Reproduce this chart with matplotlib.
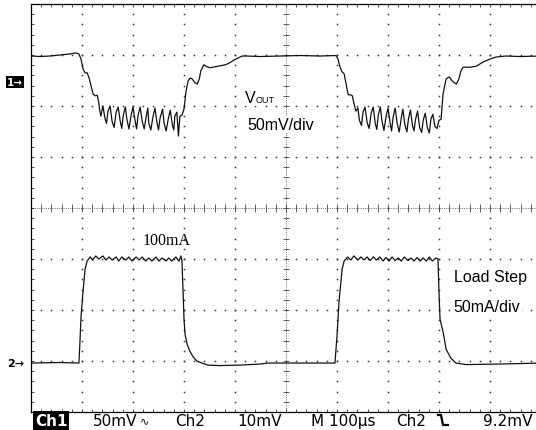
import numpy as np
import matplotlib.pyplot as plt
import matplotlib.transforms as mtransforms
from matplotlib.lines import Line2D

W, H = 536, 431

# Ch1: output voltage, AC coupled, deviation from the resting level (mV)
VOUT_T_US = [
    0, 18, 37, 57, 76, 88, 94, 98, 102, 106,
    110, 114, 118, 122, 126, 130, 133, 135, 137, 141,
    145, 148, 151, 155, 159, 163, 167, 171, 175, 178,
    181, 185, 188, 192, 196, 200, 204, 207, 210, 214,
    218, 222, 226, 229, 231, 235, 239, 243, 247, 250,
    253, 258, 261, 265, 269, 273, 277, 280, 282, 286,
    289, 292, 296, 300, 304, 308, 312, 316, 322, 326,
    330, 333, 339, 345, 351, 361, 371, 382, 390, 398,
    406, 414, 422, 449, 488, 528, 567, 598, 602, 606,
    610, 614, 618, 622, 626, 630, 633, 637, 641, 644,
    648, 651, 655, 659, 663, 667, 671, 675, 678, 681,
    685, 688, 692, 696, 700, 704, 707, 710, 714, 718,
    722, 726, 729, 733, 737, 740, 744, 748, 751, 754,
    758, 762, 766, 769, 773, 777, 781, 784, 788, 792,
    796, 800, 804, 808, 814, 820, 826, 834, 839, 843,
    847, 861, 873, 886, 900, 912, 931, 959, 1000,
]
VOUT_MV = [
    0, -0.5, 0, 1, 2, 3, 2, -3, -12.5, -16.5,
    -16.5, -21.5, -30, -37.5, -39, -38.5, -46, -54, -59, -49,
    -61, -66, -54, -49, -64, -70, -55, -50, -64, -71,
    -58, -50, -62, -71.5, -59, -50, -63, -71.5, -58, -50,
    -64, -71.5, -59, -51, -66, -72.5, -60, -51, -65, -72.5,
    -61, -52, -66, -73.5, -62, -53, -67, -72.5, -59, -55,
    -78.5, -59, -58, -52, -34.5, -24.5, -21.5, -22.5, -26.5, -27.5,
    -22.5, -14.5, -8.5, -10.5, -11.5, -10.5, -9.5, -8.5, -6.5, -4,
    -2, 0, 0, -0.5, 0, 0.5, 0, 0.5, -3, -11,
    -15.5, -17.5, -27.5, -38, -38, -39, -46, -54, -51, -63,
    -68, -55, -50, -65, -71, -56, -50, -66, -72, -58,
    -50, -63, -73, -60, -51, -65, -73.5, -60, -51, -66,
    -74.5, -61, -52, -67, -74.5, -62, -53, -68, -73.5, -62,
    -54, -70, -75, -63, -56, -70, -75.5, -62, -57, -69,
    -71, -63, -62, -37, -22.5, -20.5, -24.5, -27.5, -22.5, -14.5,
    -11, -11, -10, -6, -3, -1, 0, -0.5, 0,
]

# Ch2: load current (mA), stepping between 0 and STEP_MA
STEP_MA = 100
ILOAD_T_US = [
    0, 57, 94, 96, 98, 102, 106, 110, 116, 121,
    127, 133, 141, 147, 153, 159, 167, 172, 178, 186,
    192, 198, 206, 212, 218, 225, 231, 237, 245, 251,
    257, 265, 270, 276, 284, 290, 294, 296, 298, 300,
    302, 306, 312, 318, 325, 335, 347, 370, 410, 449,
    465, 508, 596, 600, 604, 610, 614, 621, 627, 633,
    641, 647, 653, 659, 665, 671, 677, 684, 690, 696,
    702, 708, 714, 720, 726, 732, 739, 745, 751, 757,
    763, 769, 775, 781, 787, 794, 798, 800, 802, 808,
    814, 823, 833, 853, 918, 1000,
]
ILOAD_MA = [
    0, 0.5, 0, 21, 45, 70, 92, 100, 104, 101,
    105, 102, 105, 101, 104, 101, 104, 100, 104, 101,
    104, 100, 104, 101, 104, 100, 103, 100, 104, 100,
    103, 100, 103, 100, 104, 100, 105, 100, 72.5, 43,
    28.5, 18.5, 11, 6, 2, 0, -2, -2.5, -2, -1,
    0, 0, 0, 26.5, 60, 92, 100, 104, 101, 105,
    101, 104, 101, 104, 100.5, 104, 101, 104, 100, 103.5,
    100, 104, 100.5, 103, 100, 104, 100.5, 103, 100, 103.5,
    100, 103, 100, 104, 100, 103, 102, 69.5, 43, 30.5,
    13.5, 5, 0, -1.5, -1, 0,
]

US_PER_DIV = 100
MV_PER_DIV = 50
MA_PER_DIV = 50
CH1_LEVEL = 2.98    # resting Vout trace, in screen divisions
CH1_MARK = 2.47     # Ch1 reference marker
CH2_LEVEL = -3.04   # Ch2 ground / zero-current level

fig = plt.figure(figsize=(W / 100, H / 100), dpi=100)
ax = fig.add_axes([31 / W, 18 / H, 510 / W, 408 / H])
ax.set_xlim(0, 10)
ax.set_ylim(-4, 4)

# graticule: dotted division lines, fine-ticked centre cross
fx = np.arange(0, 10.001, 0.2)
fy = np.arange(-4, 4.001, 0.2)
for gx in [1, 2, 3, 4, 6, 7, 8, 9]:
    ax.plot(np.full_like(fy, gx), fy, ls="none", marker="s", ms=1.1, mew=0, color="#333333", zorder=1)
for gy in [-3, -2, -1, 1, 2, 3]:
    ax.plot(fx, np.full_like(fx, gy), ls="none", marker="s", ms=1.1, mew=0, color="#333333", zorder=1)
ax.axvline(5, ls=(0, (1, 1.2)), lw=0.6, color="#555555", zorder=1)
ax.axhline(0, ls=(0, (1, 1.2)), lw=0.6, color="#555555", zorder=1)
ax.hlines(fy, 5 - 0.05, 5 + 0.05, lw=0.6, color="#444444", zorder=1)
ax.vlines(fx, -0.07, 0.07, lw=0.6, color="#444444", zorder=1)

for side in ["left", "top", "bottom"]:
    ax.spines[side].set_linewidth(0.9)
    ax.spines[side].set_color("black")
ax.spines["right"].set_visible(False)
ax.set_xticks(fx)
ax.set_yticks(fy)
ax.tick_params(direction="in", length=2.2, width=0.6, top=True, bottom=True,
               left=True, right=False, labelbottom=False, labelleft=False, colors="#333333")

# traces
t1 = np.array(VOUT_T_US) / US_PER_DIV
y1 = CH1_LEVEL + np.array(VOUT_MV) / MV_PER_DIV
t2 = np.array(ILOAD_T_US) / US_PER_DIV
y2 = CH2_LEVEL + np.array(ILOAD_MA) / MA_PER_DIV
ax.plot(t1, y1, color="#111111", lw=0.9, zorder=4)
ax.plot(t2, y2, color="#111111", lw=0.9, zorder=4)

# annotations on the screen
box = dict(facecolor="white", edgecolor="none", pad=1.0)
sans = "Liberation Sans"
ax.text(4.2, 2.08, "V", fontsize=11.5, family=sans, va="baseline", bbox=box, zorder=3)
ax.text(4.41, 2.08, "OUT", fontsize=6.5, family=sans, va="baseline", bbox=box, zorder=3)
ax.text(4.235, 1.55, "50mV/div", fontsize=11.5, family=sans, va="baseline", bbox=box, zorder=3)
ax.text(8.29, -1.43, "Load Step", fontsize=11.5, family=sans, va="baseline", bbox=box, zorder=3)
ax.text(8.29, -2.02, "50mA/div", fontsize=11.5, family=sans, va="baseline", bbox=box, zorder=3)
ax.text(2.196, -0.706, f"{STEP_MA}mA", fontsize=11.5,
        family="Liberation Serif", va="baseline", zorder=3)

# channel markers at the left of the screen
mark = mtransforms.blended_transform_factory(fig.transFigure, ax.transData)
fig.text(7 / W, CH1_MARK, "1\u2192", transform=mark, fontsize=7.5, color="white",
         weight="bold", va="center", bbox=dict(facecolor="black", edgecolor="none", pad=0.8))
fig.text(7 / W, CH2_LEVEL, "2\u2192", transform=mark, fontsize=8, color="black",
         weight="bold", va="center")

# readout line
base = 1 - 426 / H
fig.text(35 / W, base, "Ch1", fontsize=11, color="white", weight="bold", va="baseline",
         bbox=dict(facecolor="black", edgecolor="none", pad=1.2))
readout = [(93, "50mV"), (175, "Ch2"), (237, "10mV"), (311, "M 100\u00b5s"),
           (396, "Ch2"), (483, "9.2mV")]
for px, s in readout:
    fig.text(px / W, base, s, fontsize=11, color="black", va="baseline")
fig.text(140 / W, base + 2 / H, "\u223f", fontsize=8, color="black", va="baseline")
fig.add_artist(Line2D(np.array([438, 441, 443, 448]) / W,
                      1 - np.array([416, 416, 426, 426]) / H,
                      transform=fig.transFigure, color="black", lw=1.6))

fig.savefig("out.png", dpi=100)
